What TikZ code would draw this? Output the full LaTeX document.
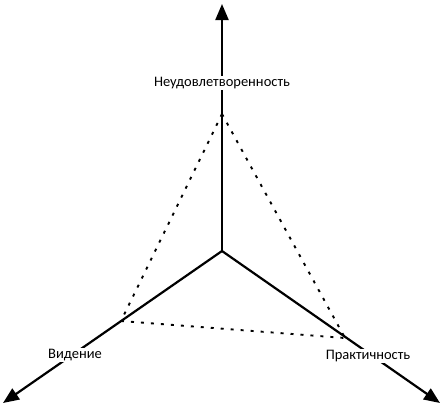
\documentclass[tikz,border=0pt]{standalone}
\usepackage{fontspec}
\setmainfont{Carlito}
\usetikzlibrary{arrows.meta}

\begin{document}
\begin{tikzpicture}[x=1pt,y=-1pt,
  axis/.style={line width=2.2pt, -{Triangle[length=16pt,width=13pt]}},
  tri/.style={line width=1.9pt, dash pattern=on 3pt off 7pt},
  lbl/.style={fill=white, inner sep=1.5pt, font=\fontsize{14.5}{16}\selectfont}]

% Cornice
\useasboundingbox (0,0) rectangle (441,407);

% Origine e punte degli assi
\coordinate (O) at (222,251);
\coordinate (tU) at (222,4);
\coordinate (tL) at (3,403);
\coordinate (tR) at (440,403);

% Vertici del triangolo
\coordinate (vU) at (222,114);
\coordinate (vL) at (121,321);
\coordinate (vR) at (345,338);

% Assi
\draw[axis] (O) -- (tU);
\draw[axis] (O) -- (tL);
\draw[axis] (O) -- (tR);

% Triangolo tratteggiato
\draw[tri] (vU) -- (vL);
\draw[tri] (vU) -- (vR);
\draw[tri] (vL) -- (vR);

% Etichette
\node[lbl] (nU) at (222,83) {Неудовлетворенность};
\node[lbl] (nL) at (75,355) {Видение};
\node[lbl] (nR) at (368,356) {Практичность};

\end{tikzpicture}
\end{document}
